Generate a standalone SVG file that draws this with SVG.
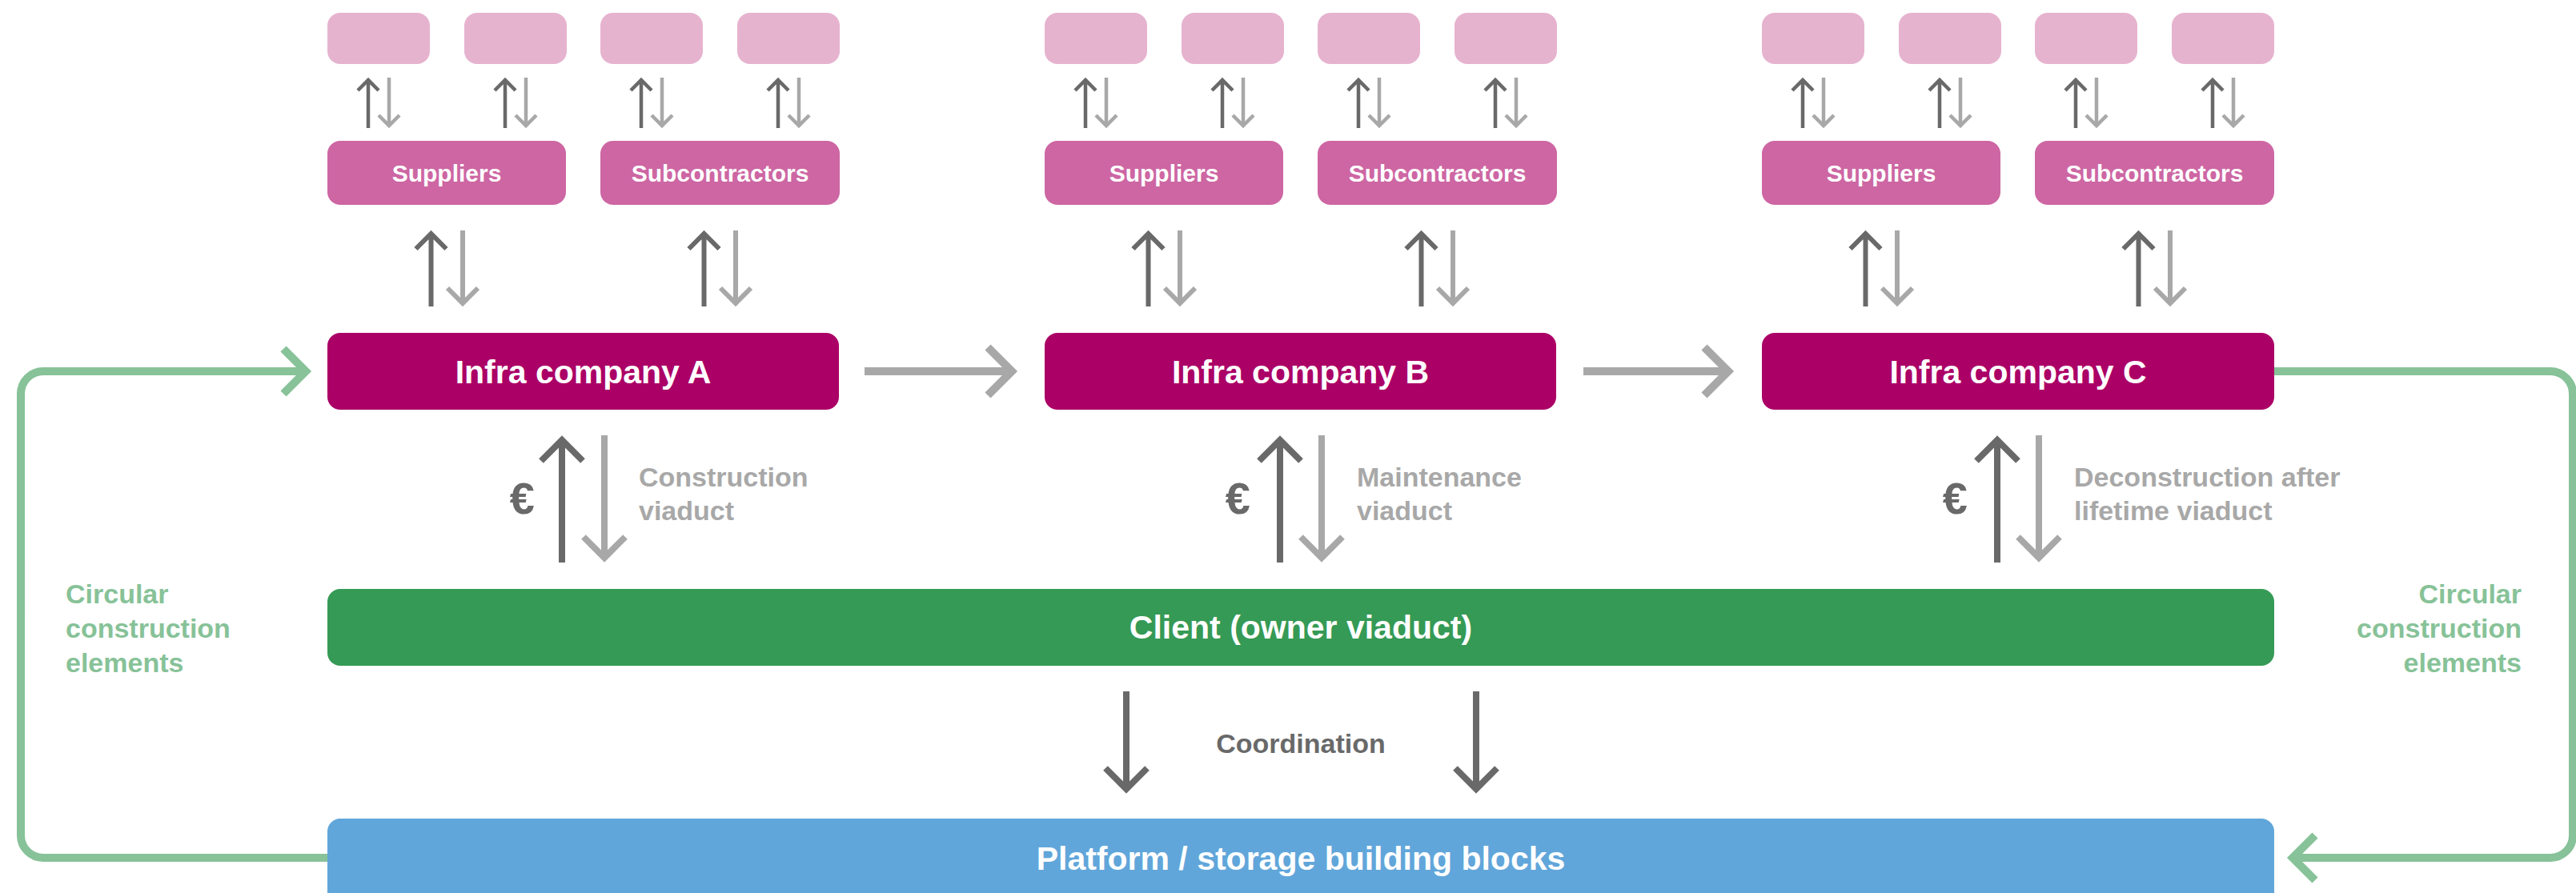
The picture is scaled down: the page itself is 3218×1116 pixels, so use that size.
<svg xmlns="http://www.w3.org/2000/svg" width="3218" height="1116" viewBox="0 0 3218 1116">
<style>
.tier{fill:#e6b3cf}
.sup{fill:#cd66a3}
.infra{fill:#ab0066}
.client{fill:#359a55}
.plat{fill:#61a6da}
.wt{fill:#fff;font-family:"Liberation Sans",Arial,sans-serif;font-weight:bold;text-anchor:middle}
.s30{font-size:30px}
.s41{font-size:41px}
.lbl{fill:#a8a8a8;font-family:"Liberation Sans",Arial,sans-serif;font-weight:bold;font-size:34px}
.coord{fill:#696969;font-family:"Liberation Sans",Arial,sans-serif;font-weight:bold;font-size:34px;text-anchor:middle}
.euro{fill:#696969;font-family:"Liberation Sans",Arial,sans-serif;font-weight:bold;font-size:56px;text-anchor:end}
.circ{fill:#87c298;font-family:"Liberation Sans",Arial,sans-serif;font-weight:bold;font-size:34px}
.dk{fill:none;stroke:#696969;stroke-linecap:butt;stroke-linejoin:miter}
.lt{fill:none;stroke:#a8a8a8;stroke-linecap:butt;stroke-linejoin:miter}
.gr{fill:none;stroke:#87c298;stroke-width:10;stroke-linecap:butt;stroke-linejoin:miter}
.w4{stroke-width:4.5}
.w6{stroke-width:6}
.w8{stroke-width:8}
.w10{stroke-width:10}
</style>

<!-- Company A cluster -->
<g id="clusterA">
  <g id="A-tier1"><rect class="tier" x="409" y="16" width="128" height="64" rx="16"/></g>
  <g id="A-tier2"><rect class="tier" x="580" y="16" width="128" height="64" rx="16"/></g>
  <g id="A-tier3"><rect class="tier" x="750" y="16" width="128" height="64" rx="16"/></g>
  <g id="A-tier4"><rect class="tier" x="921" y="16" width="128" height="64" rx="16"/></g>
  <g id="A-suppliers"><rect class="sup" x="409" y="176" width="298" height="80" rx="16"/><text class="wt s30" x="558" y="227">Suppliers</text></g>
  <g id="A-subcontractors"><rect class="sup" x="750" y="176" width="299" height="80" rx="16"/><text class="wt s30" x="899.5" y="227">Subcontractors</text></g>
  <g id="A-infra"><rect class="infra" x="409" y="416" width="639" height="96" rx="16"/><text class="wt s41" x="728.5" y="479">Infra company A</text></g>
</g>

<g id="clusterB">
  <g id="B-tier1"><rect class="tier" x="1305" y="16" width="128" height="64" rx="16"/></g>
  <g id="B-tier2"><rect class="tier" x="1476" y="16" width="128" height="64" rx="16"/></g>
  <g id="B-tier3"><rect class="tier" x="1646" y="16" width="128" height="64" rx="16"/></g>
  <g id="B-tier4"><rect class="tier" x="1817" y="16" width="128" height="64" rx="16"/></g>
  <g id="B-suppliers"><rect class="sup" x="1305" y="176" width="298" height="80" rx="16"/><text class="wt s30" x="1454" y="227">Suppliers</text></g>
  <g id="B-subcontractors"><rect class="sup" x="1646" y="176" width="299" height="80" rx="16"/><text class="wt s30" x="1795.5" y="227">Subcontractors</text></g>
  <g id="B-infra"><rect class="infra" x="1305" y="416" width="639" height="96" rx="16"/><text class="wt s41" x="1624.5" y="479">Infra company B</text></g>
</g>

<g id="clusterC">
  <g id="C-tier1"><rect class="tier" x="2201" y="16" width="128" height="64" rx="16"/></g>
  <g id="C-tier2"><rect class="tier" x="2372" y="16" width="128" height="64" rx="16"/></g>
  <g id="C-tier3"><rect class="tier" x="2542" y="16" width="128" height="64" rx="16"/></g>
  <g id="C-tier4"><rect class="tier" x="2713" y="16" width="128" height="64" rx="16"/></g>
  <g id="C-suppliers"><rect class="sup" x="2201" y="176" width="298" height="80" rx="16"/><text class="wt s30" x="2350" y="227">Suppliers</text></g>
  <g id="C-subcontractors"><rect class="sup" x="2542" y="176" width="299" height="80" rx="16"/><text class="wt s30" x="2691.5" y="227">Subcontractors</text></g>
  <g id="C-infra"><rect class="infra" x="2201" y="416" width="640" height="96" rx="16"/><text class="wt s41" x="2521" y="479">Infra company C</text></g>
</g>

<g id="client"><rect class="client" x="409" y="736" width="2432" height="96" rx="16"/><text class="wt s41" x="1625" y="798">Client (owner viaduct)</text></g>
<g id="platform"><rect class="plat" x="409" y="1023" width="2432" height="110" rx="16"/><text class="wt s41" x="1625" y="1087">Platform / storage building blocks</text></g>

<g id="connectors">
  <!-- small tier arrows: cluster A -->
  <g id="small-arrows">
    <path class="dk w4" d="M460 160V100M447 113L460 100L473 113"/>
    <path class="lt w4" d="M486 97V157M473 144L486 157L499 144"/>
    <path class="dk w4" d="M631 160V100M618 113L631 100L644 113"/>
    <path class="lt w4" d="M657 97V157M644 144L657 157L670 144"/>
    <path class="dk w4" d="M801 160V100M788 113L801 100L814 113"/>
    <path class="lt w4" d="M827 97V157M814 144L827 157L840 144"/>
    <path class="dk w4" d="M972 160V100M959 113L972 100L985 113"/>
    <path class="lt w4" d="M998 97V157M985 144L998 157L1011 144"/>
    <g transform="translate(896 0)">
      <path class="dk w4" d="M460 160V100M447 113L460 100L473 113"/>
      <path class="lt w4" d="M486 97V157M473 144L486 157L499 144"/>
      <path class="dk w4" d="M631 160V100M618 113L631 100L644 113"/>
      <path class="lt w4" d="M657 97V157M644 144L657 157L670 144"/>
      <path class="dk w4" d="M801 160V100M788 113L801 100L814 113"/>
      <path class="lt w4" d="M827 97V157M814 144L827 157L840 144"/>
      <path class="dk w4" d="M972 160V100M959 113L972 100L985 113"/>
      <path class="lt w4" d="M998 97V157M985 144L998 157L1011 144"/>
    </g>
    <g transform="translate(1792 0)">
      <path class="dk w4" d="M460 160V100M447 113L460 100L473 113"/>
      <path class="lt w4" d="M486 97V157M473 144L486 157L499 144"/>
      <path class="dk w4" d="M631 160V100M618 113L631 100L644 113"/>
      <path class="lt w4" d="M657 97V157M644 144L657 157L670 144"/>
      <path class="dk w4" d="M801 160V100M788 113L801 100L814 113"/>
      <path class="lt w4" d="M827 97V157M814 144L827 157L840 144"/>
      <path class="dk w4" d="M972 160V100M959 113L972 100L985 113"/>
      <path class="lt w4" d="M998 97V157M985 144L998 157L1011 144"/>
    </g>
  </g>
  <!-- supplier/subcontractor to infra arrows -->
  <g id="mid-arrows">
    <path class="dk w6" d="M538.5 383V292M519.5 311L538.5 292L557.5 311"/>
    <path class="lt w6" d="M578 288V379M559 360L578 379L597 360"/>
    <path class="dk w6" d="M879.5 383V292M860.5 311L879.5 292L898.5 311"/>
    <path class="lt w6" d="M919 288V379M900 360L919 379L938 360"/>
    <g transform="translate(896 0)">
      <path class="dk w6" d="M538.5 383V292M519.5 311L538.5 292L557.5 311"/>
      <path class="lt w6" d="M578 288V379M559 360L578 379L597 360"/>
      <path class="dk w6" d="M879.5 383V292M860.5 311L879.5 292L898.5 311"/>
      <path class="lt w6" d="M919 288V379M900 360L919 379L938 360"/>
    </g>
    <g transform="translate(1792 0)">
      <path class="dk w6" d="M538.5 383V292M519.5 311L538.5 292L557.5 311"/>
      <path class="lt w6" d="M578 288V379M559 360L578 379L597 360"/>
      <path class="dk w6" d="M879.5 383V292M860.5 311L879.5 292L898.5 311"/>
      <path class="lt w6" d="M919 288V379M900 360L919 379L938 360"/>
    </g>
  </g>
  <!-- infra to client arrows -->
  <g id="client-arrows">
    <path class="dk w8" d="M702 703V550M676 576L702 550L728 576"/>
    <path class="lt w8" d="M755 544V697M729 671L755 697L781 671"/>
    <path class="dk w8" d="M1599 703V550M1573 576L1599 550L1625 576"/>
    <path class="lt w8" d="M1651 544V697M1625 671L1651 697L1677 671"/>
    <path class="dk w8" d="M2495 703V550M2469 576L2495 550L2521 576"/>
    <path class="lt w8" d="M2547 544V697M2521 671L2547 697L2573 671"/>
  </g>
  <!-- horizontal flow between companies -->
  <g id="flow-arrows">
    <path class="lt w10" d="M1080 464H1263M1234 434L1264 464L1234 494"/>
    <path class="lt w10" d="M1978 464H2158M2129 434L2159 464L2129 494"/>
  </g>
  <!-- coordination arrows -->
  <g id="coord-arrows">
    <path class="dk w8" d="M1407 864V986M1381 960L1407 986L1433 960"/>
    <path class="dk w8" d="M1844 864V986M1818 960L1844 986L1870 960"/>
  </g>
  <!-- circular loops -->
  <g id="circular">
    <path class="gr" d="M409 1072H54A28 28 0 0 1 26 1044V492A28 28 0 0 1 54 464H382"/>
    <path class="gr" d="M354 436L382 464L354 492"/>
    <path class="gr" d="M2841 464H3186A28 28 0 0 1 3214 492V1044A28 28 0 0 1 3186 1072H2865"/>
    <path class="gr" d="M2892 1044L2864 1072L2892 1100"/>
  </g>
</g>

<g id="labels">
  <text class="euro" x="668" y="642">€</text>
  <text class="euro" x="1562" y="642">€</text>
  <text class="euro" x="2458" y="642">€</text>
  <text class="lbl" x="798" y="608">Construction</text>
  <text class="lbl" x="798" y="650">viaduct</text>
  <text class="lbl" x="1695" y="608">Maintenance</text>
  <text class="lbl" x="1695" y="650">viaduct</text>
  <text class="lbl" x="2591" y="608">Deconstruction after</text>
  <text class="lbl" x="2591" y="650">lifetime viaduct</text>
  <text class="coord" x="1625" y="941">Coordination</text>
  <text class="circ" x="82" y="754">Circular</text>
  <text class="circ" x="82" y="797">construction</text>
  <text class="circ" x="82" y="840">elements</text>
  <text class="circ" x="3150" y="754" text-anchor="end">Circular</text>
  <text class="circ" x="3150" y="797" text-anchor="end">construction</text>
  <text class="circ" x="3150" y="840" text-anchor="end">elements</text>
</g>
</svg>
